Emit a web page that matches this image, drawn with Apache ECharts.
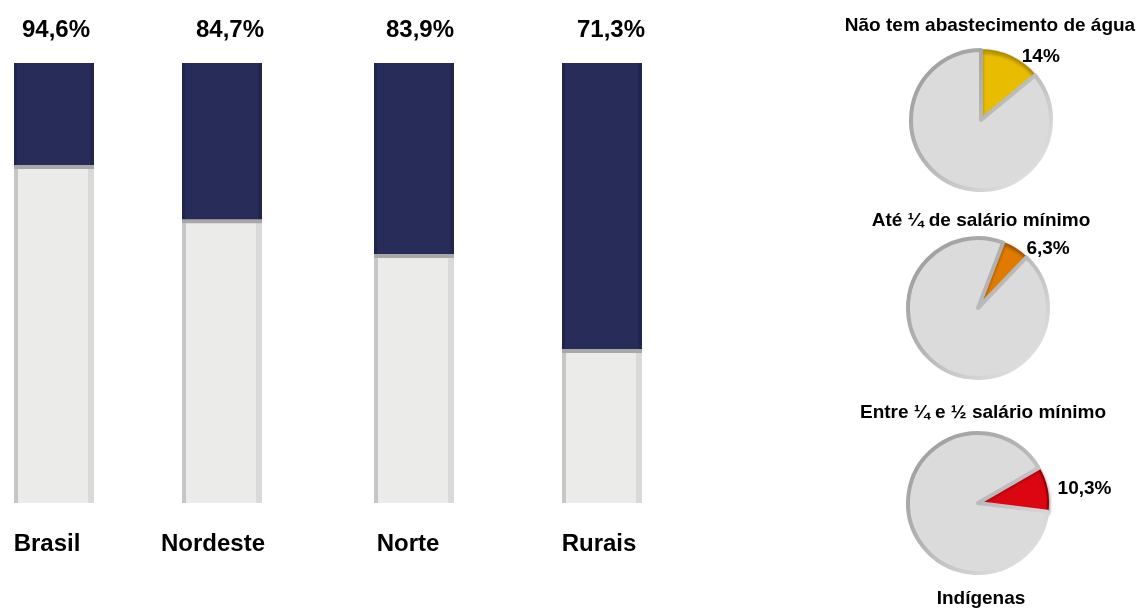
<!DOCTYPE html>
<html>
<head>
<meta charset="utf-8">
<script src="https://cdn.jsdelivr.net/npm/echarts@6/dist/echarts.min.js"></script>
<style>
  html, body { margin: 0; padding: 0; background: #ffffff; }
  #chart { width: 1138px; height: 608px; }
</style>
</head>
<body>
<div id="chart"></div>
<script>
// Regions and their coverage rates (shown above each column)
const regions = ['Brasil', 'Nordeste', 'Norte', 'Rurais'];
const coverage = [94.6, 84.7, 83.9, 71.3];
// Column composition (share of the column height, lower light part and upper dark part)
const lowerShare = [76.8, 64.5, 56.6, 35.0];
const upperShare = [23.2, 35.5, 43.4, 65.0];

// Indigenous population indicators
const pieTitles = ['Não tem abastecimento de água', 'Até ¼ de salário mínimo', 'Entre ¼ e ½ salário mínimo'];
const pieValues = [14, 6.3, 10.3];
const pieFooter = 'Indígenas';

const FONT = '"Liberation Sans", Arial, sans-serif';
const fmt = v => String(v).replace('.', ',') + '%';

// Layout of the columns and pies
const colLeft = [14, 182, 374, 562];
const colWidth = 80;
const colTop = 63;
const colHeight = 440;
const nameShift = [-7, -9, -6, -3];     // horizontal nudge of the region names
const rateShift = [2, 8, 6, 9];         // horizontal nudge of the rates
const pieCenters = [[981, 120], [978, 308], [978, 503]];
const pieStart = [90, 69, 30];
const pieColors = [
  { fill: '#e8bc00', edge: '#b38f00' },
  { fill: '#e17a00', edge: '#a85600' },
  { fill: '#dc0612', edge: '#9a0000' }
];
const pieTitlePos = [[990, 16], [981, 211], [983, 403]];
const footerPos = [981, 589];

function hGrad(stops) {
  return { type: 'linear', x: 0, y: 0, x2: 1, y2: 0,
    colorStops: stops.map(s => ({ offset: s[0], color: s[1] })) };
}
function nudge(dx) {
  return dx >= 0 ? [0, 0, 0, 2 * dx] : [0, -2 * dx, 0, 0];
}

const lowerFill = hGrad([[0, '#c6c6c6'], [0.055, '#c6c6c6'], [0.055, '#ebebea'],
                         [0.93, '#ebebea'], [0.93, '#d9d9d9'], [1, '#d9d9d9']]);
const upperFill = hGrad([[0, '#21254d'], [0.04, '#21254d'], [0.04, '#282c59'],
                         [0.95, '#282c59'], [0.95, '#22264f'], [1, '#22264f']]);

const grid = [], xAxis = [], yAxis = [], series = [];

regions.forEach((name, i) => {
  grid.push({ left: colLeft[i], top: colTop, width: colWidth, height: colHeight });
  xAxis.push({
    type: 'category', gridIndex: i, data: [name], position: 'bottom',
    axisLine: { show: false }, axisTick: { show: false },
    axisLabel: { color: '#000', fontSize: 24, fontWeight: 'bold', fontFamily: FONT, margin: 29,
                 padding: nudge(nameShift[i]) }
  });
  xAxis.push({
    type: 'category', gridIndex: i, data: [fmt(coverage[i])], position: 'top',
    axisLine: { show: false }, axisTick: { show: false },
    axisLabel: { color: '#000', fontSize: 24, fontWeight: 'bold', fontFamily: FONT, margin: 21,
                 padding: nudge(rateShift[i]) }
  });
  yAxis.push({ type: 'value', gridIndex: i, min: 0, max: 100, show: false });
  series.push({
    type: 'bar', xAxisIndex: 2 * i, yAxisIndex: i, stack: 'col' + i, barWidth: colWidth,
    data: [lowerShare[i]], silent: true,
    itemStyle: { color: lowerFill }
  });
  series.push({
    type: 'bar', xAxisIndex: 2 * i, yAxisIndex: i, stack: 'col' + i, barWidth: colWidth,
    data: [upperShare[i]], silent: true,
    itemStyle: { color: upperFill, shadowColor: '#a8a8a8', shadowOffsetY: 4, shadowBlur: 0 }
  });
});

const rimGrad = { type: 'linear', x: 0, y: 0, x2: 1, y2: 1,
  colorStops: [{ offset: 0, color: '#999999' }, { offset: 0.45, color: '#b4b4b4' },
               { offset: 0.75, color: '#d4d4d4' }, { offset: 1, color: '#ebebeb' }] };

pieValues.forEach((v, i) => {
  series.push({
    type: 'pie', center: pieCenters[i], radius: 70, startAngle: pieStart[i],
    clockwise: true, silent: true, animation: false, avoidLabelOverlap: false,
    label: { show: false },
    labelLine: { show: false, length: 0, length2: 6 },
    data: [
      { value: v, name: pieTitles[i],
        itemStyle: { color: pieColors[i].fill, borderColor: pieColors[i].edge, borderWidth: 2,
                     shadowColor: 'rgba(0,0,0,0.35)', shadowBlur: 3, shadowOffsetX: 1, shadowOffsetY: 2 },
        label: { show: true, position: 'outside', formatter: () => fmt(v),
                 color: '#000', fontSize: 19, fontWeight: 'bold', fontFamily: FONT } },
      { value: +(100 - v).toFixed(1), name: 'outros',
        itemStyle: { color: '#dbdbdb', borderColor: rimGrad, borderWidth: 4 } }
    ]
  });
});

const titleStyle = { fontSize: 19, fontWeight: 'bold', fontFamily: FONT, color: '#000' };
const titles = pieTitles.map((t, i) => ({
  text: t, left: pieTitlePos[i][0], top: pieTitlePos[i][1], textAlign: 'center', padding: 0,
  textStyle: titleStyle
}));
titles.push({
  text: pieFooter, left: footerPos[0], top: footerPos[1], textAlign: 'center', padding: 0,
  textStyle: titleStyle
});

const chart = echarts.init(document.getElementById('chart'), null, { renderer: 'canvas' });
chart.setOption({
  animation: false,
  backgroundColor: '#ffffff',
  title: titles,
  grid, xAxis, yAxis, series
});
</script>
</body>
</html>
